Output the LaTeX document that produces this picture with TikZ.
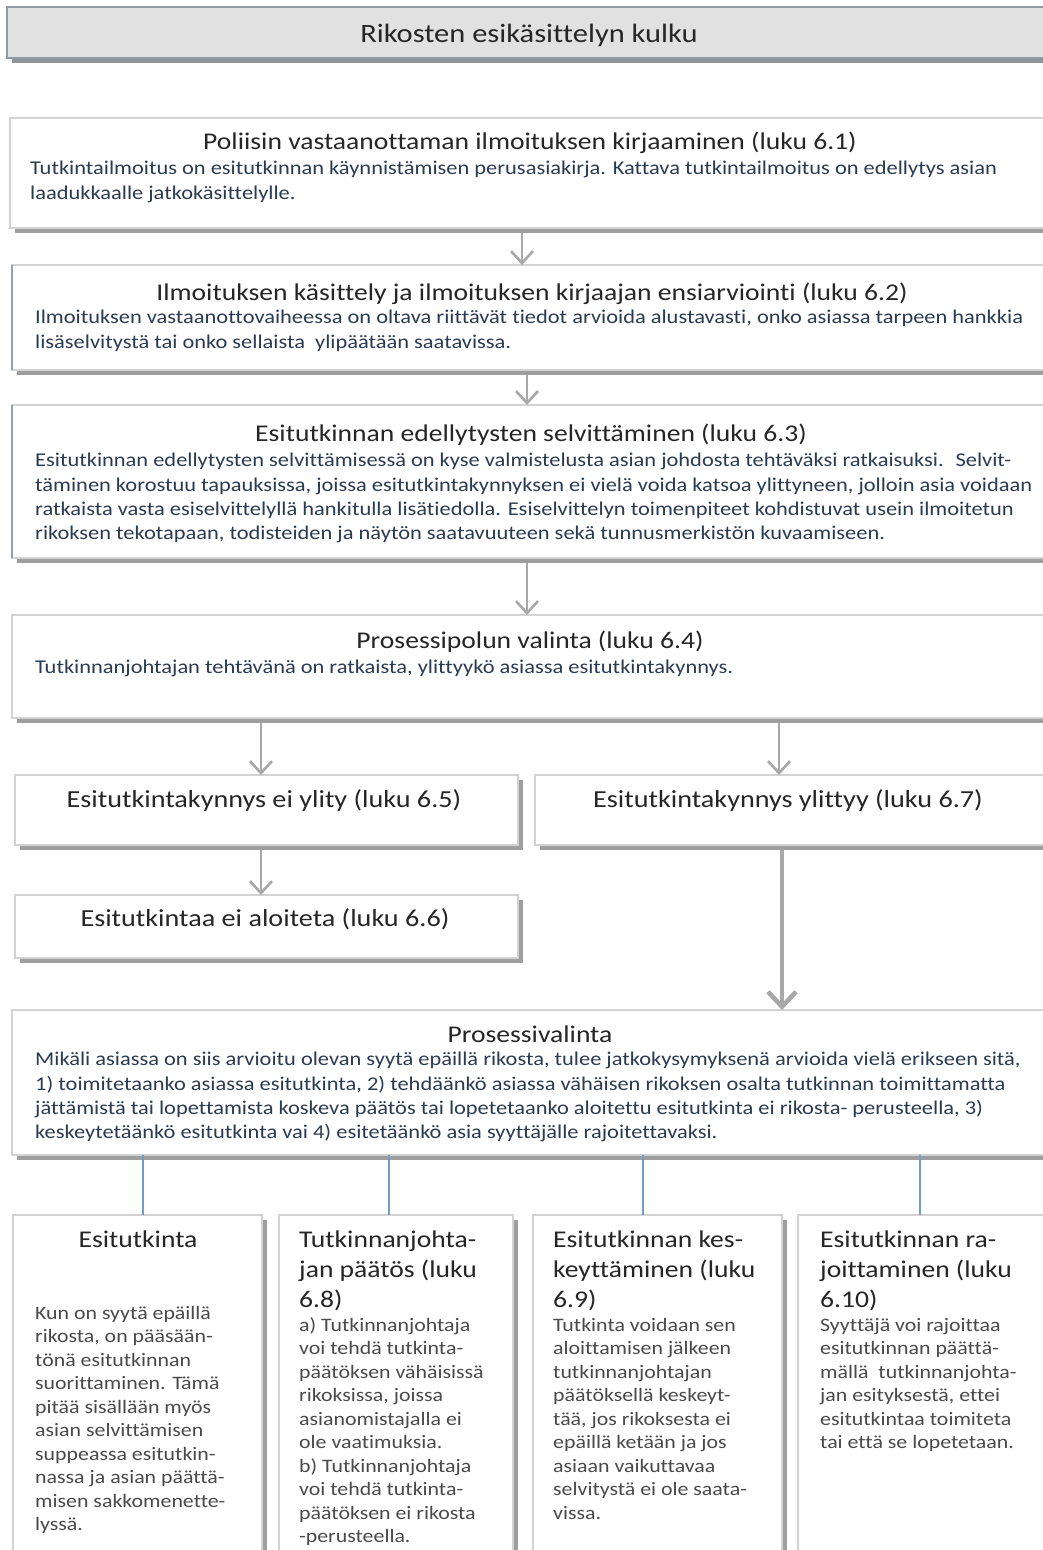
\documentclass[tikz,border=0pt]{standalone}
\usepackage{fontspec}
\setmainfont{Carlito}[FakeStretch=1.15, Ligatures=NoCommon]
\usetikzlibrary{arrows.meta,shadows}
\definecolor{ttlfill}{HTML}{E1E1E1}
\definecolor{ttlborder}{HTML}{8D9BA6}
\definecolor{ttlshadow}{HTML}{8E959B}
\definecolor{boxborder}{HTML}{D2D2D2}
\definecolor{boxshadow}{HTML}{9E9E9E}
\definecolor{arrowc}{HTML}{A8A8A8}
\definecolor{bluel}{HTML}{6F9CC9}
\definecolor{leftedge}{HTML}{8EA2B6}
\definecolor{titlec}{HTML}{262626}
\definecolor{bodyc}{HTML}{2B3B52}
\definecolor{graytext}{HTML}{4A4A4A}
\newcommand{\fst}{\rule{0pt}{0.9em}}
\newcommand{\tightls}{\lineskiplimit=-30pt\relax}
\newcommand{\bodyfont}{\fontsize{19.5}{24.3}\selectfont\tightls}
\newcommand{\colttlfont}{\fontsize{24}{30}\selectfont\tightls}
\newcommand{\colbodyfont}{\fontsize{19}{23.5}\selectfont\tightls}
\begin{document}
\begin{tikzpicture}[x=1pt,y=-1pt,
  box/.style={draw=boxborder, line width=1.2pt, fill=white, inner sep=0pt, outer sep=0pt,
    anchor=north west,
    drop shadow={shadow xshift=5pt, shadow yshift=-5pt, fill=boxshadow, opacity=1}},
  headbox/.style={draw=ttlborder, line width=1.4pt, fill=ttlfill, inner sep=0pt, outer sep=0pt,
    anchor=north west,
    drop shadow={shadow xshift=5pt, shadow yshift=-5pt, fill=ttlshadow, opacity=1}},
  ttl/.style={anchor=base, inner sep=0pt, text=titlec, font=\fontsize{24}{29}\selectfont},
  midttl/.style={anchor=base, inner sep=0pt, text=titlec, font=\fontsize{24.5}{29}\selectfont},
  body/.style={anchor=north west, inner sep=0pt, align=left, text=bodyc, font=\bodyfont},
  colttl/.style={anchor=north west, inner sep=0pt, align=left, text=titlec, font=\colttlfont},
  colbody/.style={anchor=north west, inner sep=0pt, align=left, text=graytext, font=\colbodyfont},
  arr/.style={draw=arrowc, line width=2.6pt, -{Straight Barb[length=12pt,width=22pt]}},
  thickarr/.style={draw=arrowc, line width=4.5pt, -{Straight Barb[length=15pt,width=28pt]}},
  blueline/.style={draw=bluel, line width=1.1pt}
]
\fill[white] (0,0) rectangle (1043,1550);
\useasboundingbox (0,0) rectangle (1043,1550);

% boxes
\node[headbox, minimum width=1045pt, minimum height=51pt] (hd) at (7,7) {};
\node[box, minimum width=1040pt, minimum height=110pt] (b1) at (10,118) {};
\node[box, minimum width=1040pt, minimum height=105pt] (b2) at (12,265) {};
\node[box, minimum width=1040pt, minimum height=153pt] (b3) at (12,405) {};
\node[box, minimum width=1040pt, minimum height=103pt] (b4) at (12,615) {};
\node[box, minimum width=503pt, minimum height=70pt] (b5) at (15,775) {};
\node[box, minimum width=515pt, minimum height=70pt] (b6) at (535,775) {};
\node[box, minimum width=503pt, minimum height=63pt] (b7) at (15,895) {};
\node[box, minimum width=1040pt, minimum height=145pt] (b8) at (12,1010) {};
\node[box, minimum width=249pt, minimum height=360pt] (bA) at (13,1215) {};
\node[box, minimum width=234pt, minimum height=360pt] (bB) at (279,1215) {};
\node[box, minimum width=249pt, minimum height=360pt] (bC) at (533,1215) {};
\node[box, minimum width=255pt, minimum height=360pt] (bD) at (798,1215) {};

\draw[leftedge, line width=1.2pt] (b2.north west) -- (b2.south west);
\draw[leftedge, line width=1.2pt] (b3.north west) -- (b3.south west);

% texts
\node[anchor=base, inner sep=0pt, text=titlec, font=\fontsize{26.5}{30}\selectfont] (thd) at (529,42) {Rikosten esikäsittelyn kulku};

\node[ttl] (t1) at (530,149) {Poliisin vastaanottaman ilmoituksen kirjaaminen (luku 6.1)};
\node[body] (x1) at (30,157) {\fst Tutkintailmoitus on esitutkinnan käynnistämisen perusasiakirja. Kattava tutkintailmoitus on edellytys asian\\laadukkaalle jatkokäsittelylle.};

\node[ttl] (t2) at (532,300) {Ilmoituksen käsittely ja ilmoituksen kirjaajan ensiarviointi (luku 6.2)};
\node[body] (x2) at (35,306) {\fst Ilmoituksen vastaanottovaiheessa on oltava riittävät tiedot arvioida alustavasti, onko asiassa tarpeen hankkia\\lisäselvitystä tai onko sellaista \ ylipäätään saatavissa.};

\node[ttl] (t3) at (531,441) {Esitutkinnan edellytysten selvittäminen (luku 6.3)};
\node[body] (x3) at (35,449) {\fst Esitutkinnan edellytysten selvittämisessä on kyse valmistelusta asian johdosta tehtäväksi ratkaisuksi. \ Selvit-\\täminen korostuu tapauksissa, joissa esitutkintakynnyksen ei vielä voida katsoa ylittyneen, jolloin asia voidaan\\ratkaista vasta esiselvittelyllä hankitulla lisätiedolla. Esiselvittelyn toimenpiteet kohdistuvat usein ilmoitetun\\rikoksen tekotapaan, todisteiden ja näytön saatavuuteen sekä tunnusmerkistön kuvaamiseen.};

\node[ttl] (t4) at (530,648) {Prosessipolun valinta (luku 6.4)};
\node[body] (x4) at (35,656) {\fst Tutkinnanjohtajan tehtävänä on ratkaista, ylittyykö asiassa esitutkintakynnys.};

\node[midttl] (t5) at (264,807) {Esitutkintakynnys ei ylity (luku 6.5)};
\node[midttl] (t6) at (788,807) {Esitutkintakynnys ylittyy (luku 6.7)};
\node[midttl] (t7) at (265,926) {Esitutkintaa ei aloiteta (luku 6.6)};

\node[ttl] (t8) at (530,1042) {Prosessivalinta};
\node[body] (x8) at (35,1048) {\fst Mikäli asiassa on siis arvioitu olevan syytä epäillä rikosta, tulee jatkokysymyksenä arvioida vielä erikseen sitä,\\1) toimitetaanko asiassa esitutkinta, 2) tehdäänkö asiassa vähäisen rikoksen osalta tutkinnan toimittamatta\\jättämistä tai lopettamista koskeva päätös tai lopetetaanko aloitettu esitutkinta ei rikosta- perusteella, 3)\\keskeytetäänkö esitutkinta vai 4) esitetäänkö asia syyttäjälle rajoitettavaksi.};

% bottom columns
\node[ttl] (tA) at (138,1247) {Esitutkinta};
\node[colbody] (xA) at (35,1302) {\fst Kun on syytä epäillä\\rikosta, on pääsään-\\tönä esitutkinnan\\suorittaminen. Tämä\\pitää sisällään myös\\asian selvittämisen\\suppeassa esitutkin-\\nassa ja asian päättä-\\misen sakkomenette-\\lyssä.};

\node[colttl] (tB) at (299,1226) {\fst Tutkinnanjohta-\\jan päätös (luku\\6.8)};
\node[colbody] (xB) at (299,1314) {\fst a) Tutkinnanjohtaja\\voi tehdä tutkinta-\\päätöksen vähäisissä\\rikoksissa, joissa\\asianomistajalla ei\\ole vaatimuksia.\\b) Tutkinnanjohtaja\\voi tehdä tutkinta-\\päätöksen ei rikosta\\-perusteella.};

\node[colttl] (tC) at (553,1226) {\fst Esitutkinnan kes-\\keyttäminen (luku\\6.9)};
\node[colbody] (xC) at (553,1314) {\fst Tutkinta voidaan sen\\aloittamisen jälkeen\\tutkinnanjohtajan\\päätöksellä keskeyt-\\tää, jos rikoksesta ei\\epäillä ketään ja jos\\asiaan vaikuttavaa\\selvitystä ei ole saata-\\vissa.};

\node[colttl] (tD) at (820,1226) {\fst Esitutkinnan ra-\\joittaminen (luku\\6.10)};
\node[colbody] (xD) at (820,1314) {\fst Syyttäjä voi rajoittaa\\esitutkinnan päättä-\\mällä \ tutkinnanjohta-\\jan esityksestä, ettei\\esitutkintaa toimiteta\\tai että se lopetetaan.};

% connector x positions
\coordinate (c1) at (522,0);
\coordinate (c2) at (527,0);
\coordinate (cl) at (261,0);
\coordinate (cr) at (779,0);
\coordinate (crr) at (782,0);
\coordinate (cA) at (143,0);
\coordinate (cB) at (389,0);
\coordinate (cC) at (643,0);
\coordinate (cD) at (920,0);

\draw[arr, shorten <=5pt] (b1.south -| c1) -- (b2.north -| c1);
\draw[arr, shorten <=5pt] (b2.south -| c2) -- (b3.north -| c2);
\draw[arr, shorten <=5pt] (b3.south -| c2) -- (b4.north -| c2);
\draw[arr, shorten <=5pt] (b4.south -| cl) -- (b5.north -| cl);
\draw[arr, shorten <=5pt] (b4.south -| cr) -- (b6.north -| cr);
\draw[arr, shorten <=5pt] (b5.south -| cl) -- (b7.north -| cl);
\draw[thickarr, shorten <=5pt] (b6.south -| crr) -- (b8.north -| crr);

\draw[blueline] (b8.south -| cA) -- (bA.north -| cA);
\draw[blueline] (b8.south -| cB) -- (bB.north -| cB);
\draw[blueline] (b8.south -| cC) -- (bC.north -| cC);
\draw[blueline] (b8.south -| cD) -- (bD.north -| cD);
\end{tikzpicture}
\end{document}
